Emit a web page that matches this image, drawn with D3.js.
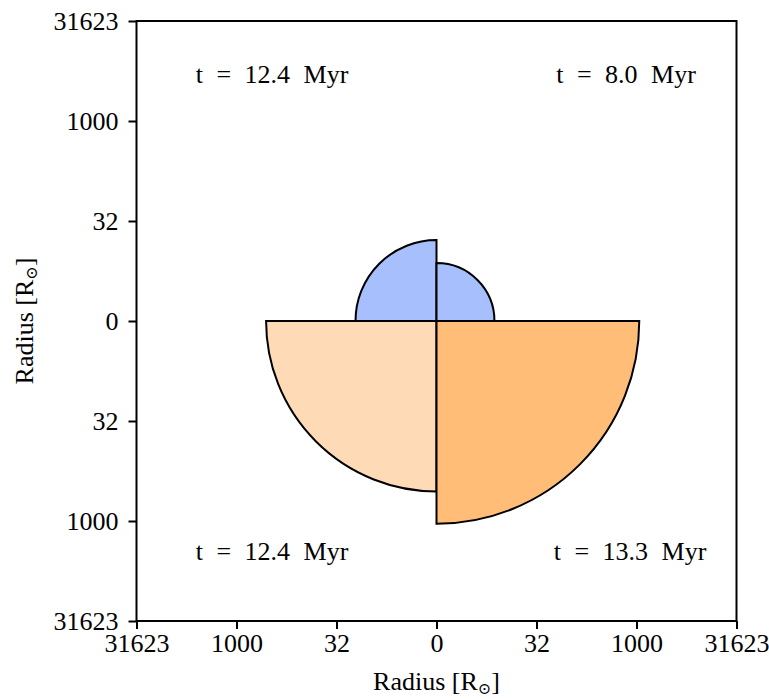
<!DOCTYPE html>
<html>
<head>
<meta charset="utf-8">
<script src="https://cdn.jsdelivr.net/npm/d3@7"></script>
<style>
  body { margin: 0; background: #fff; }
  text { font-family: "Liberation Serif", "DejaVu Serif", serif; fill: #000; }
</style>
</head>
<body>
<svg id="chart" width="769" height="699"></svg>
<script>
// tick positions (log10 of radius, mirrored around 0) and their labels
var tickPos = [-4.5, -3, -1.5, 0, 1.5, 3, 4.5];
var tickLabels = ["31623", "1000", "32", "0", "32", "1000", "31623"];

// one quarter disc per quadrant: radius in solar radii
var quadrants = ["TL", "TR", "BL", "BR"];
var radii = [16.4, 7.4, 360, 1100];
var ages = ["12.4", "8.0", "12.4", "13.3"];
var colors = ["#a8bffe", "#a8bffe", "#ffdab6", "#ffbd78"];

var svg = d3.select("#chart"),
    mLeft = 136.5, mTop = 21, size = 600;

var x = d3.scaleLinear().domain([-4.5, 4.5]).range([mLeft, mLeft + size]);
var y = d3.scaleLinear().domain([-4.5, 4.5]).range([mTop + size, mTop]);

var cx = x(0), cy = y(0);

// angles for d3.arc (0 = up, clockwise)
var angles = {
  TL: [-Math.PI / 2, 0],
  TR: [0, Math.PI / 2],
  BL: [Math.PI, 1.5 * Math.PI],
  BR: [Math.PI / 2, Math.PI]
};

var arc = d3.arc().innerRadius(0);

var g = svg.append("g").attr("transform", "translate(" + cx + "," + cy + ")");
quadrants.forEach(function(q, i) {
  var r = x(Math.log10(radii[i])) - cx;
  g.append("path")
   .attr("d", arc({outerRadius: r, startAngle: angles[q][0], endAngle: angles[q][1]}))
   .attr("fill", colors[i])
   .attr("stroke", "#000")
   .attr("stroke-width", 2)
   .attr("stroke-linejoin", "miter");
});

// age labels
var labelX = {TL: 272, TR: 626, BL: 272, BR: 630};
var labelY = {TL: 83, TR: 83, BL: 560, BR: 560};
quadrants.forEach(function(q, i) {
  svg.append("text")
     .attr("x", labelX[q])
     .attr("y", labelY[q])
     .attr("text-anchor", "middle")
     .attr("font-size", "26px")
     .attr("word-spacing", "7px")
     .text("t = " + ages[i] + " Myr");
});

// frame
svg.append("rect")
   .attr("x", mLeft).attr("y", mTop)
   .attr("width", size).attr("height", size)
   .attr("fill", "none").attr("stroke", "#000").attr("stroke-width", 2);

var xAxis = svg.append("g")
   .attr("transform", "translate(0," + (mTop + size) + ")")
   .call(d3.axisBottom(x).tickValues(tickPos).tickSize(8).tickPadding(5)
     .tickFormat(function(d, i) { return tickLabels[i]; }));

var yAxis = svg.append("g")
   .attr("transform", "translate(" + mLeft + ",0)")
   .call(d3.axisLeft(y).tickValues(tickPos.slice().reverse()).tickSize(8).tickPadding(10)
     .tickFormat(function(d, i) { return tickLabels[tickLabels.length - 1 - i]; }));

[xAxis, yAxis].forEach(function(a) {
  a.select(".domain").remove();
  a.selectAll(".tick line").attr("stroke", "#000").attr("stroke-width", 2);
  a.selectAll(".tick text").attr("font-size", "26px").attr("font-family", "Liberation Serif, serif");
});

// axis titles
function radiusLabel(sel) {
  sel.attr("font-size", "26px").attr("text-anchor", "middle");
  sel.append("tspan").text("Radius [R");
  sel.append("tspan").attr("font-size", "16px").attr("dy", 4).text("\u2299");
  sel.append("tspan").attr("dy", -4).text("]");
}

svg.append("text")
   .attr("x", cx).attr("y", 690)
   .call(radiusLabel);

svg.append("text")
   .attr("transform", "translate(33," + cy + ") rotate(-90)")
   .call(radiusLabel);
</script>
</body>
</html>
